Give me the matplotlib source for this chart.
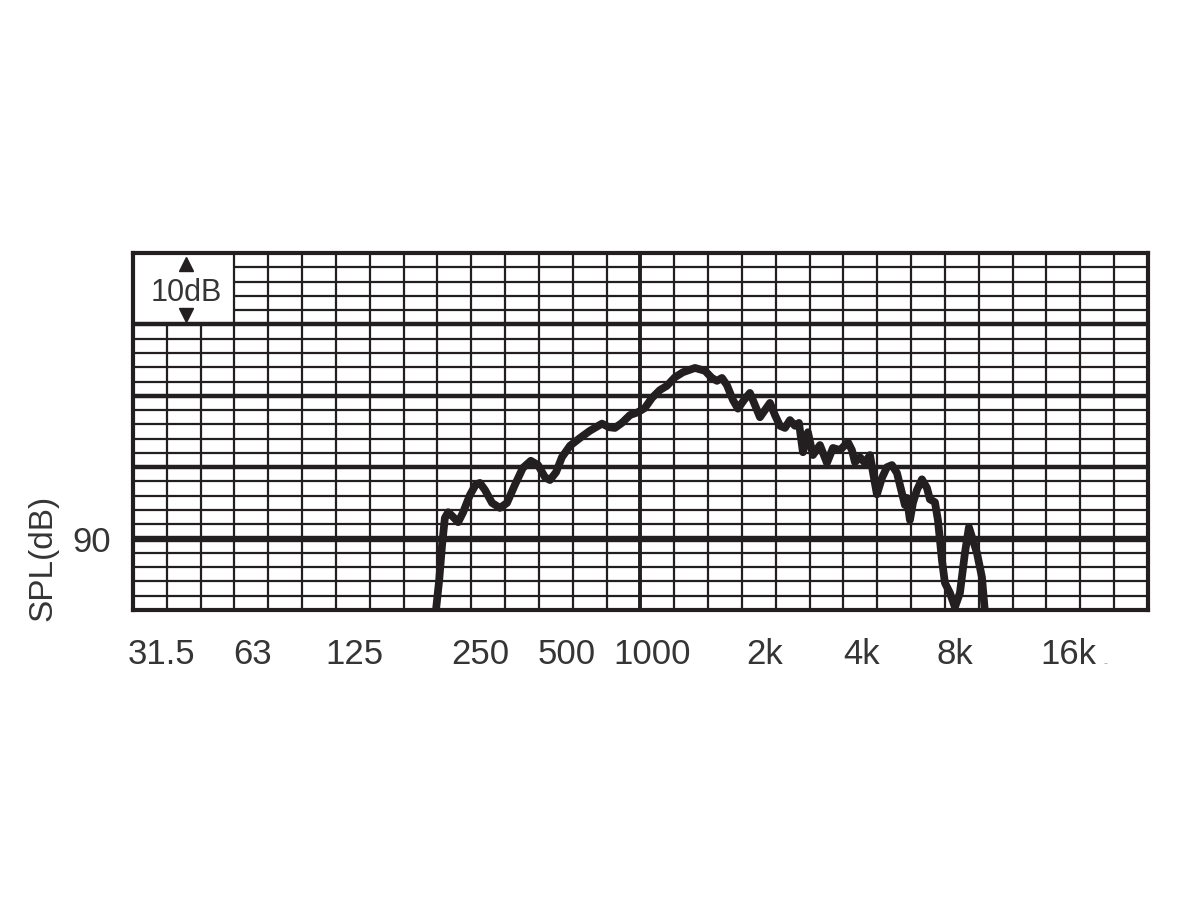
import numpy as np
import matplotlib.pyplot as plt

plt.rcParams['font.family'] = ['Liberation Sans', 'DejaVu Sans']

# response curve (Hz, dB SPL)
freq = [247, 253, 258, 263, 269, 276, 288, 298, 312, 325, 334, 346, 363, 383,
        402, 424, 448, 473, 497, 521, 539, 562, 585, 618, 662, 708, 769, 807,
        840, 881, 931, 983, 1031, 1082, 1142, 1198, 1266, 1337, 1451, 1554,
        1629, 1686, 1745, 1805, 1881, 1946, 2028, 2112, 2186, 2262, 2340, 2422,
        2506, 2593, 2683, 2776, 2872, 2952, 3034, 3139, 3248, 3407, 3574, 3724,
        3906, 4125, 4239, 4327, 4478, 4633, 4794, 4927, 5028, 5203, 5384, 5571,
        5764, 5964, 6087, 6171, 6299, 6430, 6608, 6837, 7075, 7221, 7472, 7627,
        7838, 8000, 8278, 8566, 8863, 9171, 9425, 9686, 9955, 10300, 10513]
spl = [79.6, 84.2, 89.1, 92.9, 93.7, 93.2, 92.3, 93.7, 96.1, 97.6, 97.8, 96.8,
       95.0, 94.3, 95.0, 97.5, 99.9, 100.9, 100.3, 98.6, 98.2, 99.3, 101.4,
       103.0, 104.1, 105.1, 106.1, 105.6, 105.5, 106.2, 107.3, 107.7, 108.3,
       109.7, 110.8, 111.4, 112.6, 113.3, 113.9, 113.5, 112.5, 112.1, 112.5,
       111.5, 109.4, 108.2, 109.4, 110.4, 108.7, 107.0, 108.0, 109.0, 107.3,
       105.8, 105.5, 106.6, 105.8, 106.2, 102.1, 104.9, 101.7, 103.1, 100.6,
       102.7, 102.4, 103.5, 102.4, 100.7, 101.4, 100.6, 101.7, 98.5, 96.2,
       98.5, 100.0, 100.3, 99.2, 96.4, 94.7, 95.7, 92.6, 95.0, 96.8, 98.3,
       97.1, 95.5, 95.1, 92.6, 87.0, 83.8, 82.4, 80.4, 82.4, 88.0, 91.6, 89.8,
       88.0, 84.6, 79.7]

# where the printed frequency labels sit along the axis
label_pos = [38.1, 70.9, 142, 334, 606, 1081, 2341, 4538, 8567, 18530]
label_txt = ['31.5', '63', '125', '250', '500', '1000', '2k', '4k', '8k', '16k']

f_lo, f_hi = 31.25, 32000.0
db_lo, db_hi = 80, 130
ink = '#231f20'
txt = '#353535'

fig = plt.figure(figsize=(12, 9), dpi=100)
ax = fig.add_axes([0.1108, 0.3222, 0.8458, 0.3967])
ax.set_xscale('log')
ax.set_xlim(f_lo, f_hi)
ax.set_ylim(db_lo, db_hi)

# 1/3 octave vertical grid, 1 kHz line heavier
box_f = f_lo * 2  # the "10dB" box covers the first three cells
for k in range(1, 30):
    fk = f_lo * 2 ** (k / 3)
    lw = 2.8 if k == 15 else 1.6
    top = db_hi if fk >= box_f * 0.999 else 120
    ax.vlines(fk, db_lo, top, color=ink, lw=lw, zorder=2)

# 2 dB horizontal grid, 10 dB heavier, 90 dB heaviest
for d in range(82, 130, 2):
    if d == 90:
        lw = 4.6
    elif d % 10 == 0:
        lw = 3.2
    else:
        lw = 1.6
    left = box_f if d > 120 else f_lo
    ax.hlines(d, left, f_hi, color=ink, lw=lw, zorder=2)

ax.plot(freq, spl, color=ink, lw=5.6, solid_joinstyle='round',
        solid_capstyle='butt', zorder=4)

# 10 dB scale marker
ax.plot([44.8], [128.5], marker='^', ms=10, color=ink, zorder=5, clip_on=False)
ax.plot([44.8], [121.3], marker='v', ms=10, color=ink, zorder=5, clip_on=False)
ax.text(45, 124.4, '10dB', ha='center', va='center', fontsize=22, color=txt, zorder=5)

for s in ax.spines.values():
    s.set_linewidth(3.0)
    s.set_color(ink)
    s.set_zorder(6)

ax.xaxis.set_minor_locator(plt.NullLocator())
ax.set_xticks(label_pos)
ax.set_xticklabels(label_txt)
ax.set_yticks([90])
ax.set_yticklabels(['90'])
ax.tick_params(axis='x', length=0, pad=20, labelsize=25, labelcolor=txt)
ax.tick_params(axis='y', length=0, pad=16, labelsize=25, labelcolor=txt)

fig.text(0.036, 1 - 558 / 900, 'SPL(dB)', rotation=90, ha='center', va='center',
         fontsize=24, color=txt)
fig.text(1106 / 1200, 1 - 664 / 900, '-', ha='center', va='center',
         fontsize=9, color='#aaaaaa')

fig.savefig('out.png', dpi=100, facecolor='white')
